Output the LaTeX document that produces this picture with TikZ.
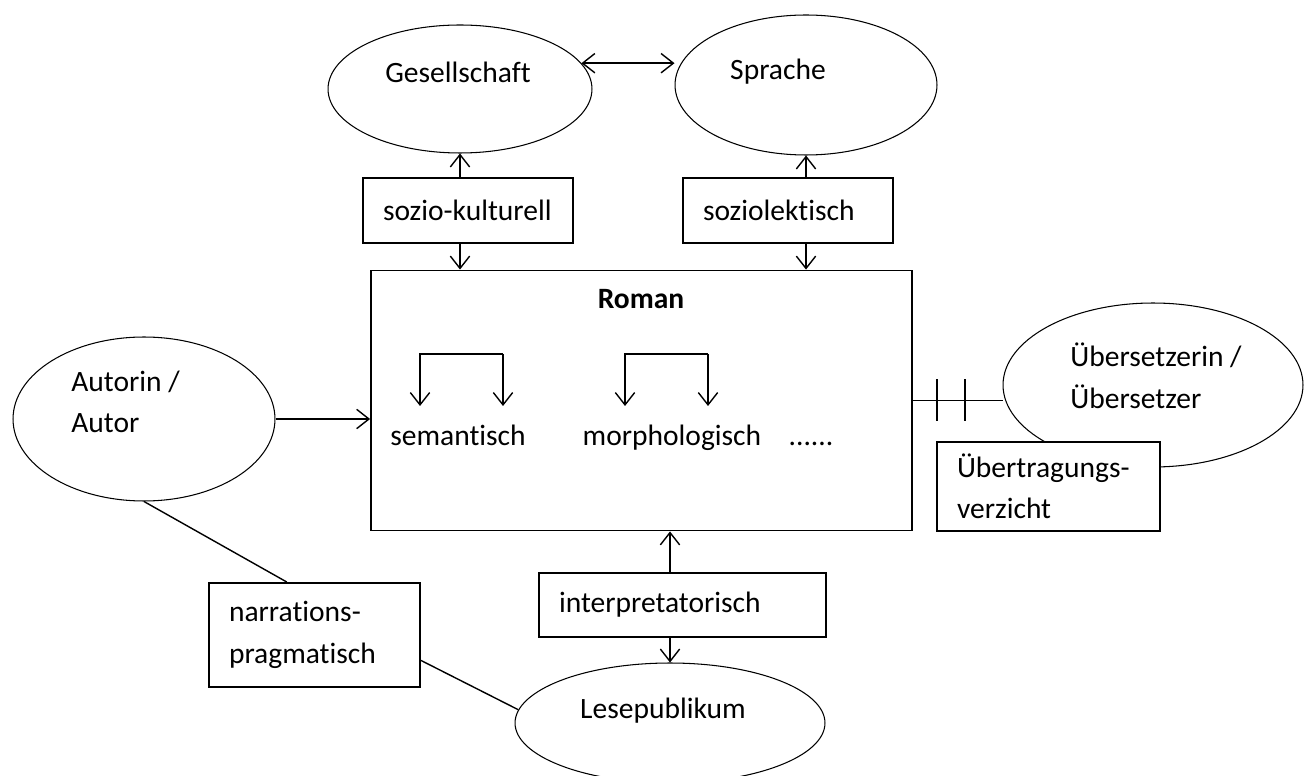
\documentclass[tikz,border=0pt]{standalone}
\usepackage{fontspec}
\setmainfont[Ligatures={NoCommon}]{Carlito}
\usepackage{tikz}
\usetikzlibrary{arrows.meta,shapes.geometric,positioning,calc}
\tikzset{
  ellnode/.style={draw, ellipse, line width=0.6pt, inner sep=0pt},
  rbox/.style   ={draw, line width=1.1pt, fill=white, align=left,
                  inner xsep=0.4cm, inner ysep=0pt, text width=#1},
  rbox/.default=3.4cm,
  txt/.style    ={inner sep=0pt, anchor=base},
  mtxt/.style   ={inner sep=0pt, anchor=west, align=left},
  %% connectors
  arr/.style    ={-{Straight Barb[length=7pt,width=11pt]}, line width=0.8pt},
  darr/.style   ={{Straight Barb[length=7pt,width=11pt]}-{Straight Barb[length=7pt,width=11pt]}, line width=0.8pt},
  lnk/.style    ={line width=0.8pt},
}
\begin{document}
\begin{tikzpicture}[x=0.02cm,y=-0.02cm,font=\fontsize{16.8}{23.6}\selectfont]
  \useasboundingbox (0,0) rectangle (1304,776);
  \node[ellnode, minimum width=5.28cm, minimum height=2.56cm] (ges) at (460,89) {};
  \node[ellnode, minimum width=5.24cm, minimum height=2.8cm] (spr) at (806,85) {};
  \node[ellnode, minimum width=5.24cm, minimum height=3.28cm] (aut) at (144,419) {};
  \node[ellnode, minimum width=6.0cm, minimum height=3.28cm] (ubs) at (1153,385) {};
  \node[ellnode, minimum width=6.2cm, minimum height=2.4cm] (les) at (670,723) {};
  \node[txt] (gestxt) at (458,83) {Gesellschaft};
  \node[txt] (sprtxt) at (778,80) {Sprache};
  \node[txt] (lestxt) at (663,718) {Lesepublikum};
  \node[mtxt] (auttxt) at (71,402) {Autorin /\\Autor};
  \node[mtxt] (ubstxt) at (1070,376) {Übersetzerin /\\Übersetzer};
  \node[draw, line width=1.1pt, minimum width=10.82cm, minimum height=5.2cm] (rom) at (641.5,400.5) {};
  \node[txt, font=\fontsize{16.8}{23.6}\selectfont\bfseries] (romtxt) at (641,309) {Roman};
  \node[txt] (sem) at (458,445) {semantisch};
  \node[txt] (mor) at (672,445) {morphologisch};
  \node[txt] (dots) at (811,445) {......};
  \node[rbox, minimum height=1.3cm] (soz) at (468,210.5) {sozio-kulturell};
  \node[rbox, minimum height=1.3cm] (sle) at (788,210.5) {soziolektisch};
  \node[rbox=4.94cm, minimum height=1.28cm] (int) at (682.5,605) {interpretatorisch};
  \node[rbox=3.42cm, minimum height=2.08cm] (nar) at (314.5,635) {narrations-\\pragmatisch};
  \node[rbox=3.66cm, minimum height=1.78cm] (ubt) at (1048.5,486.5) {Übertragungs-\\verzicht};
  \coordinate (br1) at (420,354);
  \coordinate (br2) at (625,354);
  \draw[darr] (ges.12) -- (ges.12 -| spr.west);
  \draw[arr] (soz.north -| ges.south) -- (ges.south);
  \draw[arr] (soz.south -| ges.south) -- (rom.north -| ges.south);
  \draw[arr] (sle.north -| spr.south) -- (spr.south);
  \draw[arr] (sle.south -| spr.south) -- (rom.north -| spr.south);
  \draw[arr] (aut.east) -- (aut.east -| rom.west);
  \draw[arr] (int.north -| les.north) -- (rom.south -| les.north);
  \draw[arr] (int.south -| les.north) -- (les.north);
  \draw[lnk] (aut.south) -- ($(nar.north west)!0.37!(nar.north east)$);
  \draw[lnk] ($(nar.north east)!0.74!(nar.south east)$) -- (les.175);
  \draw[lnk] (rom.east) -- coordinate[pos=0.27] (tk1) coordinate[pos=0.58] (tk2) (rom.east -| ubs.west);
  \foreach \t in {tk1,tk2}
    \draw[lnk] (\t) ++(0,-21) -- ++(0,42);
  \foreach \c in {br1,br2} {
    \draw[arr] (\c) ++(83,0) -- (\c) -- ++(0,52);
    \draw[arr] (\c) ++(83,0) -- ++(0,52);
  }
\end{tikzpicture}
\end{document}
